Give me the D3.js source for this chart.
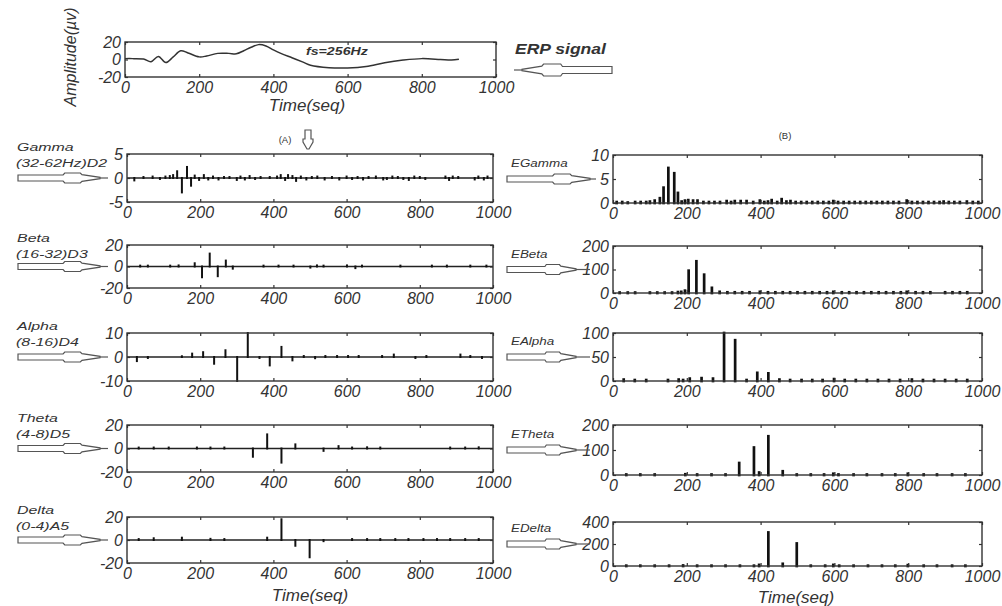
<!DOCTYPE html>
<html>
<head>
<meta charset="utf-8">
<script src="https://cdn.jsdelivr.net/npm/d3@7"></script>
<style>
body { margin: 0; background: #fff; }
svg text { font-family: "Liberation Sans", Arial, sans-serif; fill: #333; }
</style>
</head>
<body>
<script>
// ---- data ----
const xTicks = [0, 200, 400, 600, 800, 1000];

// ERP signal (top)
const erpT = [0, 20, 50, 70, 90, 110, 130, 150, 170, 200, 220, 250, 280, 300, 320, 340, 360, 380, 400, 420, 450, 480, 500, 550, 600, 650, 700, 750, 800, 850, 880, 900];
const erpV = [1, 1, 0.5, -2.5, 3.5, -3.5, 3, 10, 7.5, 3, 4, 7, 7, 6.5, 10, 14, 17, 15.5, 11, 7, 2, -3, -6.5, -9.3, -9.6, -8, -3.7, -0.7, 1, 0, -0.7, 0.3];
const erpTicks = [-20, 0, 20];

const bandNames = ["Gamma", "Beta", "Alpha", "Theta", "Delta"];
const bandSubs = ["(32-62Hz)D2", "(16-32)D3", "(8-16)D4", "(4-8)D5", "(0-4)A5"];
const bandDomains = [[-5, 5], [-20, 20], [-10, 10], [-20, 20], [-20, 20]];
const bandTicks = [[-5, 0, 5], [-20, 0, 20], [-10, 0, 10], [-20, 0, 20], [-20, 0, 20]];

const energyNames = ["EGamma", "EBeta", "EAlpha", "ETheta", "EDelta"];
const energyDomains = [[0, 10], [0, 200], [0, 100], [0, 200], [0, 400]];
const energyTicks = [[0, 5, 10], [0, 100, 200], [0, 50, 100], [0, 100, 200], [0, 200, 400]];

// wavelet coefficients (A)
const gammaT = [20, 45, 70, 90, 105, 117, 126, 137, 150, 164, 175, 185, 197, 210, 222, 235, 250, 265, 280, 300, 310, 322, 335, 350, 365, 390, 410, 420, 432, 440, 452, 462, 475, 490, 505, 520, 540, 560, 580, 600, 615, 630, 645, 660, 680, 700, 710, 725, 740, 755, 770, 785, 800, 815, 870, 880, 890, 905, 950, 960, 975, 985];
const gammaV = [-0.5, 0.2, 0.3, -0.2, 0.3, 0.4, 0.6, 1.4, -3.0, 2.3, -1.6, 0.5, -0.4, 0.6, -0.3, 0.3, -0.3, 0.2, 0.2, -0.4, 0.3, -0.3, 0.4, -0.2, 0.2, 0.2, 0.3, 0.6, -0.4, 0.6, 0.4, -0.6, 0.3, -0.3, 0.2, 0.3, -0.3, 0.2, -0.3, 0.3, -0.2, 0.2, -0.3, 0.2, 0.3, -0.3, -0.2, 0.3, 0.2, -0.2, -0.4, 0.3, 0.2, -0.2, 0.3, -0.4, 0.3, 0.2, -0.3, 0.3, -0.3, 0.3];
const betaT = [36, 57, 118, 141, 185, 205, 226, 248, 270, 289, 373, 414, 455, 501, 519, 537, 601, 624, 642, 747, 833, 874, 938, 982];
const betaV = [0.8, 0.8, 0.8, 1, 3, -10, 12, -9, 5.5, -2, 0.8, 0.8, 0.8, -1, 1, 0.8, 1, -1.5, 0.8, 0.8, 0.8, 0.8, 0.8, 0.8];
const alphaT = [27, 57, 150, 178, 208, 238, 269, 301, 330, 362, 390, 422, 452, 483, 514, 542, 574, 604, 633, 697, 729, 788, 818, 911, 938, 970];
const alphaV = [-1.7, -0.4, 0.3, 1.4, 2, -2.8, 2.8, -10, 10, -0.4, -3.5, 4.2, -1.4, 0.4, -0.5, 0.4, 0.4, 0.4, 0.4, 0.4, 1, -0.4, 0.4, 1, 0.4, -0.4];
const thetaT = [32, 73, 114, 191, 228, 266, 344, 383, 422, 460, 537, 578, 615, 656, 692, 883, 924, 961];
const thetaV = [0.8, 0.8, 0.8, 0.8, 0.8, 0.8, -7, 12, -12, 3.5, -2, 2, 0.8, 1, 0.8, 0.8, 0.8, 1];
const deltaT = [32, 73, 150, 228, 266, 383, 422, 460, 499, 537, 615, 656, 692, 733, 769, 810, 847, 883, 924, 961];
const deltaV = [0.8, 1.5, 2, 1, 0.8, 2, 18, -5, -15, -1, 0.8, 0.8, 0.8, 0.8, 0.8, 0.8, 0.8, 0.8, 0.8, 0.8];

// energies (B)
const eGammaT = [10, 25, 40, 60, 75, 90, 100, 113, 127, 137, 150, 166, 176, 186, 195, 204, 217, 229, 245, 260, 275, 290, 308, 320, 330, 346, 362, 380, 398, 410, 420, 430, 445, 457, 470, 481, 495, 510, 525, 540, 555, 570, 585, 597, 610, 625, 640, 655, 670, 685, 700, 715, 730, 745, 760, 775, 796, 810, 825, 840, 855, 870, 885, 896, 910, 925, 940, 959, 975, 990];
const eGammaV = [0.2, 0.2, 0.1, 0.2, 0.2, 0.2, 0.3, 0.5, 1.0, 3.2, 7.3, 6.2, 2.1, 0.3, 0.5, 0.6, 0.5, 0.5, 0.2, 0.2, 0.2, 0.2, 0.4, 0.2, 0.4, 0.4, 0.4, 0.2, 0.5, 0.2, 0.3, 0.6, 0.2, 0.8, 0.3, 0.4, 0.2, 0.2, 0.2, 0.2, 0.2, 0.2, 0.2, 0.4, 0.2, 0.2, 0.2, 0.2, 0.2, 0.2, 0.2, 0.2, 0.2, 0.2, 0.2, 0.2, 0.5, 0.2, 0.2, 0.2, 0.2, 0.2, 0.2, 0.3, 0.2, 0.2, 0.2, 0.3, 0.2, 0.2];
const eBetaT = [18, 40, 60, 100, 120, 140, 160, 176, 185, 195, 205, 226, 247, 268, 289, 310, 330, 350, 370, 398, 420, 440, 460, 480, 500, 520, 540, 560, 580, 597, 620, 640, 660, 680, 700, 720, 740, 760, 780, 796, 820, 840, 860, 900, 920, 940, 960];
const eBetaV = [2, 2, 2, 2, 2, 2, 2, 4, 5, 10, 95, 135, 78, 22, 5, 3, 3, 3, 3, 5, 3, 3, 3, 3, 3, 3, 3, 3, 3, 5, 3, 3, 3, 3, 3, 3, 3, 3, 3, 5, 3, 3, 3, 3, 3, 3, 3];
const eAlphaT = [29, 59, 90, 149, 178, 190, 208, 240, 271, 301, 331, 362, 391, 421, 451, 480, 511, 540, 568, 599, 628, 658, 688, 718, 748, 778, 810, 840, 870, 900, 930, 960];
const eAlphaV = [3, 2, 2, 2, 3, 2, 5, 6, 5, 100, 85, 2, 17, 16, 3, 2, 2, 2, 2, 4, 2, 2, 2, 2, 2, 2, 3, 2, 2, 2, 2, 2];
const eThetaT = [36, 74, 113, 196, 228, 267, 305, 342, 382, 396, 421, 460, 498, 536, 572, 597, 611, 652, 688, 729, 765, 799, 842, 878, 919, 955];
const eThetaV = [2, 2, 2, 3, 2, 2, 2, 48, 110, 10, 155, 15, 2, 2, 2, 5, 2, 2, 2, 2, 2, 5, 2, 2, 2, 2];
const eDeltaT = [36, 74, 113, 152, 190, 228, 267, 305, 344, 382, 396, 421, 460, 498, 536, 575, 597, 613, 652, 691, 729, 765, 799, 842, 878, 919, 955];
const eDeltaV = [3, 3, 3, 3, 5, 3, 3, 3, 3, 3, 10, 305, 20, 205, 3, 3, 10, 3, 3, 3, 3, 3, 8, 3, 3, 3, 3];

const bandT = [gammaT, betaT, alphaT, thetaT, deltaT];
const bandV = [gammaV, betaV, alphaV, thetaV, deltaV];
const energyT = [eGammaT, eBetaT, eAlphaT, eThetaT, eDeltaT];
const energyV = [eGammaV, eBetaV, eAlphaV, eThetaV, eDeltaV];

// ---- layout ----
const width = 1002, height = 606;
const topBox = { x0: 125, x1: 496, y0: 42, y1: 77 };
const leftX = [127, 493];
const leftY = [[154, 202], [245, 288], [333, 381], [425, 472], [517, 563]];
const rightX = [613, 982];
const rightY = [[155, 203], [246, 293], [333, 381], [425, 475], [522, 566]];
const ink = "#333";

var svg = d3.select("body").append("svg")
	.attr("width", width)
	.attr("height", height)

function styleAxis(g) {
	g.select(".domain").remove()
	g.selectAll("line").attr("stroke", ink).attr("stroke-width", 1.2)
	g.selectAll("text")
		.style("font-size", "16px")
		.style("font-style", "italic")
		.attr("fill", ink)
}

// plain numbers, hyphen minus, no thousands comma
const plain = d => String(d)

// draws the box, inward ticks on all four sides and tick labels
function frame(x, y, yTicks) {
	let [b, t] = y.range()
	let [l, r] = x.range()

	svg.append("g").attr("transform", `translate(0,${b})`)
		.call(d3.axisBottom(x).tickValues(xTicks).tickFormat(plain).tickSizeInner(-3).tickSizeOuter(0).tickPadding(5))
		.call(styleAxis)
	svg.append("g").attr("transform", `translate(0,${t})`)
		.call(d3.axisTop(x).tickValues(xTicks).tickSizeInner(-3).tickSizeOuter(0).tickFormat(""))
		.call(styleAxis)
	svg.append("g").attr("transform", `translate(${l},0)`)
		.call(d3.axisLeft(y).tickValues(yTicks).tickFormat(plain).tickSizeInner(-3).tickSizeOuter(0).tickPadding(4))
		.call(styleAxis)
	svg.append("g").attr("transform", `translate(${r},0)`)
		.call(d3.axisRight(y).tickValues(yTicks).tickSizeInner(-3).tickSizeOuter(0).tickFormat(""))
		.call(styleAxis)

	svg.append("rect")
		.attr("x", l).attr("y", t)
		.attr("width", r - l).attr("height", b - t)
		.attr("fill", "none")
		.attr("stroke", ink)
		.attr("stroke-width", 1.4)
}

function stems(x, y, T, V, w) {
	let d = T.map((t, i) => ({ t: t, v: V[i] }))
	svg.append("g").selectAll("line")
		.data(d)
		.enter()
		.append("line")
		.attr("x1", d => x(d.t)).attr("x2", d => x(d.t))
		.attr("y1", y(0)).attr("y2", d => y(d.v))
		.attr("stroke", "#111")
		.attr("stroke-width", w)
		.attr("stroke-linecap", "square")
}

// hollow arrow; dir = 1 points right, -1 points left
function arrow(xTail, xTip, yc, hs, hb, dir, lead) {
	let L = xTip - xTail
	let pts = [[0, -hs], [0.55, -hs], [0.57, -hb], [0.76, -hb], [0.78, -hs * 1.1], [1, -0.7],
		[1, 0.7], [0.78, hs * 1.1], [0.76, hb], [0.57, hb], [0.55, hs], [0, hs]]
	let p = pts.map(q => [xTail + q[0] * L, yc + q[1]])
	svg.append("path")
		.attr("d", d3.line()(p) + "Z")
		.attr("fill", "#fff")
		.attr("stroke", "#555")
		.attr("stroke-width", 1.2)
	if (lead) {
		svg.append("line")
			.attr("x1", xTip).attr("x2", xTip + dir * lead)
			.attr("y1", yc).attr("y2", yc)
			.attr("stroke", "#555").attr("stroke-width", 1.2)
	}
}

function stretchedText(txt, x, y, size, sx, weight) {
	svg.append("text")
		.attr("transform", `translate(${x},${y}) scale(${sx},1)`)
		.style("font-size", size + "px")
		.style("font-style", "italic")
		.style("font-weight", weight || "normal")
		.text(txt)
}

// ---- top ERP panel ----
let xTop = d3.scaleLinear().domain([0, 1000]).range([topBox.x0, topBox.x1])
let yTop = d3.scaleLinear().domain([-20, 20]).range([topBox.y1, topBox.y0])
frame(xTop, yTop, erpTicks)

svg.append("path")
	.datum(erpT.map((t, i) => [t, erpV[i]]))
	.attr("d", d3.line().x(d => xTop(d[0])).y(d => yTop(d[1])).curve(d3.curveCatmullRom))
	.attr("fill", "none")
	.attr("stroke", "#333")
	.attr("stroke-width", 1.5)

stretchedText("fs=256Hz", 306, 55, 10.5, 1.35, "bold")
stretchedText("ERP signal", 515, 54, 15, 1.17, "bold")
// left-pointing arrow under "ERP signal"
arrow(612, 522, 70, 3.5, 6, -1, 8)

svg.append("text")
	.attr("transform", "translate(76,57) rotate(-90)")
	.attr("text-anchor", "middle")
	.style("font-size", "16px")
	.style("font-style", "italic")
	.text("Amplitude(\u00b5v)")

svg.append("text")
	.attr("x", 307).attr("y", 111)
	.attr("text-anchor", "middle")
	.style("font-size", "17px")
	.style("font-style", "italic")
	.text("Time(seq)")

// down arrow and column captions
let dx = 308
svg.append("path")
	.attr("d", d3.line()([[dx - 3, 130], [dx + 3, 130], [dx + 3, 139], [dx + 5, 139], [dx + 5, 142], [dx + 1, 149], [dx - 1, 149], [dx - 5, 142], [dx - 5, 139], [dx - 3, 139]]) + "Z")
	.attr("fill", "#fff").attr("stroke", "#555").attr("stroke-width", 1.2)
svg.append("text").attr("x", 285).attr("y", 143).attr("text-anchor", "middle")
	.style("font-size", "9.5px").text("(A)")
svg.append("text").attr("x", 785).attr("y", 139).attr("text-anchor", "middle")
	.style("font-size", "9.5px").text("(B)")

// ---- left column: coefficients ----
for (let i = 0; i < 5; i++) {
	let x = d3.scaleLinear().domain([0, 1000]).range(leftX)
	let y = d3.scaleLinear().domain(bandDomains[i]).range([leftY[i][1], leftY[i][0]])
	svg.append("line")
		.attr("x1", leftX[0]).attr("x2", leftX[1])
		.attr("y1", y(0)).attr("y2", y(0))
		.attr("stroke", "#222").attr("stroke-width", 1.3)
	stems(x, y, bandT[i], bandV[i], 2)
	frame(x, y, bandTicks[i])

	let ty = leftY[i][0]
	stretchedText(bandNames[i], 17, ty - 3, 11, 1.45)
	stretchedText(bandSubs[i], 16, ty + 13, 11, 1.45)
	arrow(18, 100, y(0), 3, 5, 1, 8)
}

svg.append("text")
	.attr("x", 310).attr("y", 601)
	.attr("text-anchor", "middle")
	.style("font-size", "17px")
	.style("font-style", "italic")
	.text("Time(seq)")

// ---- right column: energies ----
for (let i = 0; i < 5; i++) {
	let x = d3.scaleLinear().domain([0, 1000]).range(rightX)
	let y = d3.scaleLinear().domain(energyDomains[i]).range([rightY[i][1], rightY[i][0]])
	stems(x, y, energyT[i], energyV[i], 2.7)
	frame(x, y, energyTicks[i])

	let mid = y(energyTicks[i][1])
	stretchedText(energyNames[i], 511, mid - 12, 11, 1.22)
	let tip = i == 0 ? 590 : 576
	arrow(507, tip, mid, 3, 5, 1, i == 0 ? 6 : 14)
}

svg.append("text")
	.attr("x", 796).attr("y", 603)
	.attr("text-anchor", "middle")
	.style("font-size", "17px")
	.style("font-style", "italic")
	.text("Time(seq)")
</script>
</body>
</html>
